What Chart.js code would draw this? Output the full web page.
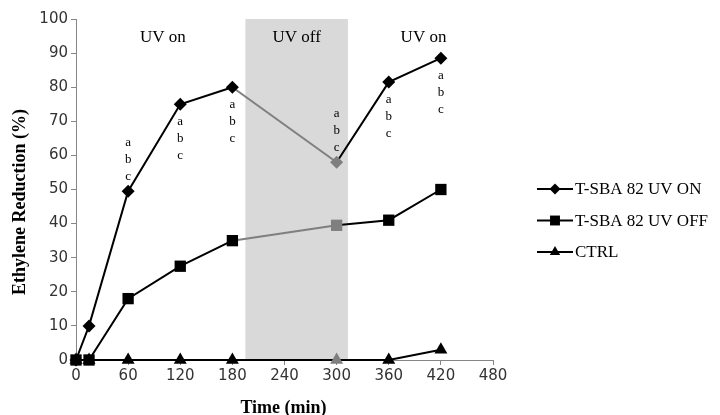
<!DOCTYPE html>
<html>
<head>
<meta charset="utf-8">
<script src="https://cdn.jsdelivr.net/npm/chart.js@4.4.1/dist/chart.umd.min.js"></script>
<style>
  html, body { margin: 0; padding: 0; background: #fff; }
  #wrap { width: 720px; height: 415px; }
</style>
</head>
<body>
<div id="wrap"><canvas id="chart" width="720" height="415"></canvas></div>
<script>
// sampling times (min)
const times = [0, 15, 60, 120, 180, 300, 360, 420];
// ethylene reduction (%)
const uvOn  = [0, 10, 49.5, 75, 80, 58, 81.5, 88.5];
const uvOff = [0, 0, 18, 27.5, 35, 39.5, 41, 50];
const ctrl  = [0, 0, 0, 0, 0, 0, 0, 3];
const seriesNames = ['T-SBA 82 UV ON', 'T-SBA 82 UV OFF', 'CTRL'];
const xTicks = [0, 60, 120, 180, 240, 300, 360, 420, 480];
const yTicks = [0, 10, 20, 30, 40, 50, 60, 70, 80, 90, 100];
const xTitle = 'Time (min)';
const yTitle = 'Ethylene Reduction (%)';

// lamp switched off between these times
const offStart = 195;
const offEnd = 313;
const phaseLabels = [
  { text: 'UV on', at: 100 },
  { text: 'UV off', at: 254 },
  { text: 'UV on', at: 400 }
];
// significance letters, above or below the UV ON point
const letterTimes = [60, 120, 180, 300, 360, 420];
const letterAbove = [true, false, false, true, false, false];

const BLACK = '#000';
const GREY = '#7f7f7f';
const SERIF = '"Liberation Serif", "Times New Roman", serif';

function pts(vals) {
  return times.map((t, i) => ({ x: t, y: vals[i] }));
}
function offPoint(ctx) {
  return ctx.raw && ctx.raw.x === 300 ? GREY : BLACK;
}
const offSegment = {
  borderColor: c => (c.p0.parsed.x === 180 && c.p1.parsed.x === 300) ? GREY : BLACK
};

const bandPlugin = {
  id: 'band',
  beforeDatasetsDraw(chart) {
    const { ctx, chartArea, scales } = chart;
    const x0 = scales.x.getPixelForValue(offStart);
    const x1 = scales.x.getPixelForValue(offEnd);
    ctx.save();
    ctx.fillStyle = '#d9d9d9';
    ctx.fillRect(x0, chartArea.top, x1 - x0, chartArea.bottom - chartArea.top);
    ctx.restore();
  },
  afterDatasetsDraw(chart) {
    const { ctx, scales } = chart;
    ctx.save();
    ctx.fillStyle = '#000';
    ctx.textAlign = 'center';
    ctx.textBaseline = 'middle';
    ctx.font = '17px ' + SERIF;
    phaseLabels.forEach(p => {
      ctx.fillText(p.text, scales.x.getPixelForValue(p.at), 38);
    });
    ctx.font = '13px ' + SERIF;
    letterTimes.forEach((t, i) => {
      const v = uvOn[times.indexOf(t)];
      const px = scales.x.getPixelForValue(t);
      const py = scales.y.getPixelForValue(v);
      const start = letterAbove[i] ? py - 49 : py + 17;
      ['a', 'b', 'c'].forEach((l, k) => ctx.fillText(l, px, start + k * 17));
    });
    ctx.restore();
  }
};

// axis titles and the legend on the right
const labelsPlugin = {
  id: 'sideLabels',
  afterDraw(chart) {
    const { ctx, scales } = chart;
    ctx.save();
    ctx.fillStyle = BLACK;
    ctx.textAlign = 'center';
    ctx.textBaseline = 'middle';
    ctx.font = 'bold 18px ' + SERIF;
    ctx.fillText(xTitle, (scales.x.left + scales.x.right) / 2 - 1, 408);
    ctx.save();
    ctx.translate(20, 202);
    ctx.rotate(-Math.PI / 2);
    ctx.fillText(yTitle, 0, 0);
    ctx.restore();

    ctx.textAlign = 'left';
    ctx.font = '17px ' + SERIF;
    chart.data.datasets.forEach((ds, i) => {
      const y = 189 + i * 31.5;
      ctx.strokeStyle = BLACK;
      ctx.lineWidth = 2;
      ctx.beginPath();
      ctx.moveTo(537, y);
      ctx.lineTo(573, y);
      ctx.stroke();
      ctx.fillStyle = BLACK;
      Chart.helpers.drawPoint(ctx, { pointStyle: ds.pointStyle, radius: ds.legendRadius, rotation: 0, borderWidth: 0 }, 555, y);
      ctx.fillStyle = BLACK;
      ctx.fillText(ds.label, 575, y + 1);
    });
    ctx.restore();
  }
};

new Chart(document.getElementById('chart'), {
  type: 'line',
  data: {
    datasets: [
      { label: seriesNames[0], data: pts(uvOn), pointStyle: 'rectRot', pointRadius: 6.5, legendRadius: 5.5, order: 1, segment: offSegment },
      { label: seriesNames[1], data: pts(uvOff), pointStyle: 'rect', pointRadius: 8, legendRadius: 7, order: 0, segment: offSegment },
      { label: seriesNames[2], data: pts(ctrl), pointStyle: 'triangle', pointRadius: 7.5, legendRadius: 6, order: 2 }
    ].map(d => Object.assign({
      borderColor: BLACK,
      borderWidth: 2,
      pointBackgroundColor: offPoint,
      pointBorderColor: offPoint,
      pointBorderWidth: 0,
      pointHoverRadius: 7,
      tension: 0,
      clip: false
    }, d))
  },
  options: {
    responsive: false,
    animation: false,
    events: [],
    layout: { padding: { top: 19, right: 227, left: 0, bottom: 0 } },
    plugins: { legend: { display: false }, tooltip: { enabled: false } },
    scales: {
      x: {
        type: 'linear',
        min: 0,
        max: 480,
        afterBuildTicks: s => { s.ticks = xTicks.map(v => ({ value: v })); },
        afterFit: s => { s.height = 55; },
        border: { color: '#868686', width: 1 },
        grid: { drawOnChartArea: false, color: '#868686', tickLength: 5 },
        ticks: { color: '#333', font: { family: '"DejaVu Sans", sans-serif', size: 15 }, padding: 2, maxRotation: 0 }
      },
      y: {
        min: 0,
        max: 100,
        afterBuildTicks: s => { s.ticks = yTicks.map(v => ({ value: v })); },
        afterFit: s => { s.width = 76; },
        border: { color: '#868686', width: 1 },
        grid: { drawOnChartArea: false, color: '#868686', tickLength: 5 },
        ticks: { color: '#333', font: { family: '"DejaVu Sans", sans-serif', size: 15 }, padding: 3 }
      }
    }
  },
  plugins: [bandPlugin, labelsPlugin]
});
</script>
</body>
</html>
